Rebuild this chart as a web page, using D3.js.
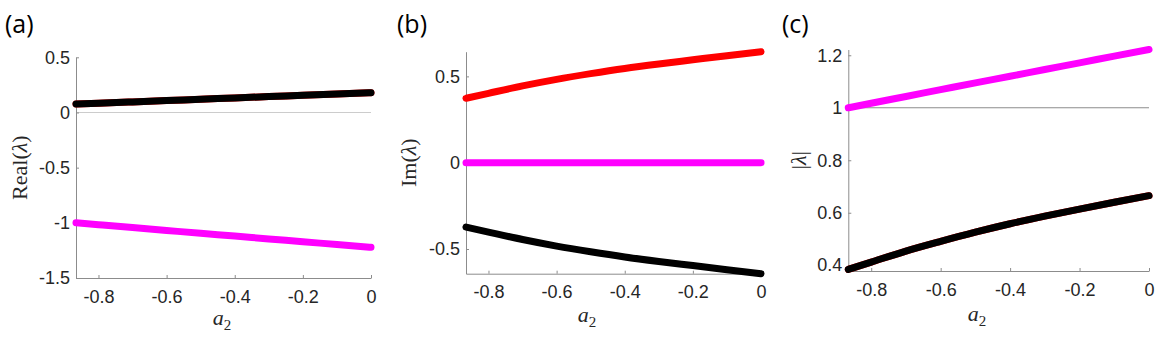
<!DOCTYPE html>
<html>
<head>
<meta charset="utf-8">
<script src="https://cdn.jsdelivr.net/npm/d3@7"></script>
<style>
body{margin:0;background:#fff;}
svg{display:block;}
</style>
</head>
<body>
<svg id="chart" width="1163" height="337"></svg>
<script>
// sampled a2 values
var a2 = [-0.866, -0.8, -0.7, -0.6, -0.5, -0.4, -0.3, -0.2, -0.1, 0];

// complex pair (red / black) and the real eigenvalue (magenta)
var re_pair  = [0.077, 0.084, 0.096, 0.108, 0.120, 0.132, 0.144, 0.156, 0.168, 0.179];
var re_real  = [-1.000, -1.017, -1.043, -1.069, -1.095, -1.120, -1.146, -1.171, -1.197, -1.222];
var im_pair  = [0.373, 0.402, 0.445, 0.483, 0.516, 0.546, 0.572, 0.596, 0.620, 0.643];
var im_real  = [0, 0, 0, 0, 0, 0, 0, 0, 0, 0];
var abs_pair = [0.384, 0.412, 0.454, 0.491, 0.526, 0.558, 0.587, 0.614, 0.640, 0.665];
var abs_real = [1.000, 1.017, 1.043, 1.069, 1.095, 1.120, 1.146, 1.171, 1.197, 1.222];

var xTicks  = [-0.8, -0.6, -0.4, -0.2, 0];
var yTicksA = [-1.5, -1, -0.5, 0, 0.5];
var yTicksB = [-0.5, 0, 0.5];
var yTicksC = [0.4, 0.6, 0.8, 1, 1.2];

var axis_color = "#8c8c8c";
var text_color = "#262626";
var lw = 7;

var panels = [
    {label:"(a)", lx:5, left:76, right:371, top:57.3, bottom:278,
     ydom:[-1.5, 0.5], yticks:yTicksA, ref:0, refColor:"#cccccc",
     ylab:"Real", ylx:27, xlx:222, xly:325,
     series:[[re_pair,"#ff0000"],[re_pair,"#000000"],[re_real,"#ff00ff"]]},
    {label:"(b)", lx:397, left:466, right:761, top:51.7, bottom:273.7,
     ydom:[-0.643, 0.643], yticks:yTicksB, ref:null,
     ylab:"Im", ylx:416, xlx:587, xly:322,
     series:[[im_pair,"#ff0000"],[im_real,"#ff00ff"],[im_pair.map(function(v){return -v;}),"#000000"]]},
    {label:"(c)", lx:782, left:848.3, right:1149, top:49.5, bottom:271,
     ydom:[0.378, 1.222], yticks:yTicksC, ref:1, refColor:"#8c8c8c",
     ylab:null, ylx:806, xlx:977, xly:321,
     series:[[abs_pair,"#ff0000"],[abs_pair,"#000000"],[abs_real,"#ff00ff"]]}
];

var svg = d3.select("#chart");

panels.forEach(function(p){
    var x = d3.scaleLinear().domain([-0.866, 0]).range([p.left, p.right]);
    var y = d3.scaleLinear().domain(p.ydom).range([p.bottom, p.top]);
    var g = svg.append("g");

// reference line
    if(p.ref !== null){
        g.append("line")
            .attr("x1", p.left)
            .attr("x2", p.right)
            .attr("y1", y(p.ref))
            .attr("y2", y(p.ref))
            .style("stroke", p.refColor)
            .style("stroke-width", "1.2px");
    }

// Axis
    var xAxis = d3.axisBottom(x).tickValues(xTicks)
        .tickSizeInner(-3).tickSizeOuter(0).tickPadding(12)
        .tickFormat(function(d){return String(d);});
    var yAxis = d3.axisLeft(y).tickValues(p.yticks)
        .tickSizeInner(-3).tickSizeOuter(0).tickPadding(6)
        .tickFormat(function(d){return String(d);});

    var gx = g.append("g").attr("transform", "translate(0," + p.bottom + ")").call(xAxis);
    var gy = g.append("g").attr("transform", "translate(" + p.left + ",0)").call(yAxis);
    [gx, gy].forEach(function(a){
        a.select(".domain").style("stroke", axis_color).style("stroke-width", "1px");
        a.selectAll(".tick line").style("stroke", axis_color);
        a.selectAll(".tick text")
            .style("fill", text_color)
            .style("font-family", "'Liberation Sans', Arial, sans-serif")
            .style("font-size", "18px");
    });

// Curves
    var line = d3.line()
        .x(function(d, i){return x(a2[i]);})
        .y(function(d){return y(d);})
        .curve(d3.curveMonotoneX);
    p.series.forEach(function(s){
        g.append("path")
            .datum(s[0])
            .attr("d", line)
            .attr("fill", "none")
            .attr("stroke", s[1])
            .attr("stroke-width", lw)
            .attr("stroke-linecap", "round")
            .attr("stroke-linejoin", "round");
    });

// Text
    g.append("text")
        .text(p.label)
        .attr("x", p.lx)
        .attr("y", 33)
        .attr("font-family", "'Open Sans', 'DejaVu Sans', sans-serif")
        .attr("font-size", 25)
        .attr("fill", "#000");

    var xl = g.append("text")
        .attr("x", p.xlx)
        .attr("y", p.xly)
        .attr("text-anchor", "middle")
        .attr("font-family", "'Liberation Serif', 'DejaVu Serif', serif")
        .attr("font-size", 22)
        .attr("fill", text_color);
    xl.append("tspan").text("a").attr("font-style", "italic");
    xl.append("tspan").text("2").attr("font-size", 15).attr("dy", 5);

    var cy = (p.top + p.bottom) / 2;
    var yl = g.append("text")
        .attr("transform", "translate(" + p.ylx + "," + cy + ") rotate(-90)")
        .attr("text-anchor", "middle")
        .attr("font-family", "'Liberation Serif', 'DejaVu Serif', serif")
        .attr("font-size", 22)
        .attr("fill", text_color);
    if(p.ylab){
        yl.append("tspan").text(p.ylab + "(");
        yl.append("tspan").text("λ").attr("font-style", "italic");
        yl.append("tspan").text(")");
    }else{
        yl.append("tspan").text("|");
        yl.append("tspan").text("λ").attr("font-style", "italic");
        yl.append("tspan").text("|");
    }
});
</script>
</body>
</html>
